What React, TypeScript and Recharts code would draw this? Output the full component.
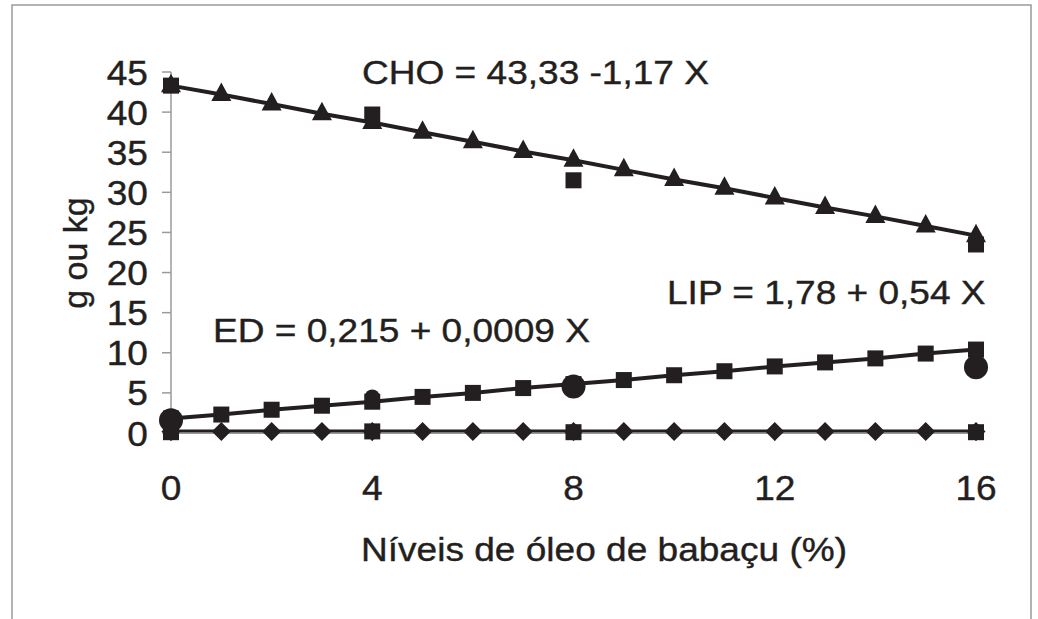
import { LineChart, Line, XAxis, YAxis } from "recharts";

// níveis de óleo (eixo X)
const niveis = [0, 1, 2, 3, 4, 5, 6, 7, 8, 9, 10, 11, 12, 13, 14, 15, 16];
// valores estimados (curvas ajustadas)
const choAjustado = [43.3, 42.2, 41.0, 39.8, 38.7, 37.5, 36.3, 35.1, 34.0, 32.8, 31.6, 30.5, 29.3, 28.1, 27.0, 25.8, 24.6];
const lipAjustado = [1.8, 2.3, 2.9, 3.4, 3.9, 4.5, 5.0, 5.6, 6.1, 6.6, 7.2, 7.7, 8.3, 8.8, 9.3, 9.9, 10.4];
const edAjustado = [0.2, 0.2, 0.2, 0.2, 0.2, 0.2, 0.2, 0.2, 0.2, 0.2, 0.2, 0.2, 0.2, 0.2, 0.2, 0.2, 0.2];
// valores observados
const niveisObs = [0, 4, 8, 16];
const choObs = [43.3, 39.7, 31.5, 23.5];
const lipObs = [1.6, 4.5, 5.8, 8.2];
const edObs = [0.1, 0.2, 0.1, 0.1];

const xTicks = [0, 4, 8, 12, 16];
const yTicks = [0, 5, 10, 15, 20, 25, 30, 35, 40, 45];

const INK = "#231f20";
const GRAY = "#9a9a9a";
const FONT = "'Liberation Sans', Arial, sans-serif";
const FS = 34;
const SX = 1.09; // a imagem original é um pouco esticada na horizontal

const data = niveis.map((x, i) => {
  const j = niveisObs.indexOf(x);
  return {
    x,
    cho: choAjustado[i],
    lip: lipAjustado[i],
    ed: edAjustado[i],
    choObs: j >= 0 ? choObs[j] : null,
    lipObs: j >= 0 ? lipObs[j] : null,
    edObs: j >= 0 ? edObs[j] : null,
  };
});

const Triangulo = (p: any) => {
  if (p.cy == null || p.value == null) return <g key={p.index} />;
  const { cx, cy } = p;
  return <polygon key={p.index} points={`${cx},${cy - 12} ${cx - 10},${cy + 6.5} ${cx + 10},${cy + 6.5}`} fill={INK} />;
};
const Quadrado = (p: any) => {
  if (p.cy == null || p.value == null) return <g key={p.index} />;
  return <rect key={p.index} x={p.cx - 8} y={p.cy - 8} width={16} height={16} fill={INK} />;
};
const Losango = (p: any) => {
  if (p.cy == null || p.value == null) return <g key={p.index} />;
  const { cx, cy } = p;
  return <polygon key={p.index} points={`${cx},${cy - 9.5} ${cx + 9.5},${cy} ${cx},${cy + 9.5} ${cx - 9.5},${cy}`} fill={INK} />;
};
const Circulo = (p: any) => {
  if (p.cy == null || p.value == null) return <g key={p.index} />;
  const r = p.payload.x === 4 ? 7.5 : 12;
  return <circle key={p.index} cx={p.cx} cy={p.cy} r={r} fill={INK} />;
};

const Texto = ({ x, y, anchor = "start", size = FS, sx = SX, children }: any) => (
  <text
    transform={`translate(${x},${y}) scale(${sx},1)`}
    textAnchor={anchor}
    fontFamily={FONT}
    fontSize={size}
    fill={INK}
    stroke={INK}
    strokeWidth={0.4}
  >
    {children}
  </text>
);

const TickX = ({ x, y, payload }: any) => (
  <Texto x={x} y={y + 54} anchor="middle" size={35} sx={1.06}>{payload.value}</Texto>
);
const TickY = ({ x, y, payload }: any) => (
  <Texto x={x} y={y + 12.5} anchor="end" size={35} sx={1.06}>{payload.value}</Texto>
);

export default function App() {
  return (
    <div style={{ position: "absolute", left: 0, top: 0, width: 1038, height: 619, background: "#fff", overflow: "hidden" }}>
      <LineChart width={1038} height={619} data={data} margin={{ top: 72, right: 62, bottom: 0, left: 0 }}>
        <XAxis
          dataKey="x"
          type="number"
          domain={[0, 16]}
          ticks={xTicks}
          height={186}
          tickSize={8}
          tickMargin={5}
          axisLine={{ stroke: GRAY, strokeWidth: 1.5 }}
          tickLine={{ stroke: GRAY, strokeWidth: 1.5 }}
          tick={<TickX />}
        />
        <YAxis
          type="number"
          domain={[0, 45]}
          ticks={yTicks}
          width={171}
          tickSize={9}
          tickMargin={14}
          axisLine={{ stroke: GRAY, strokeWidth: 1.5 }}
          tickLine={{ stroke: GRAY, strokeWidth: 1.5 }}
          tick={<TickY />}
        />
        <Line dataKey="lipObs" stroke="none" dot={Circulo} activeDot={false} isAnimationActive={false} />
        <Line dataKey="choObs" stroke="none" dot={Quadrado} activeDot={false} isAnimationActive={false} />
        <Line dataKey="edObs" stroke="none" dot={Quadrado} activeDot={false} isAnimationActive={false} />
        <Line dataKey="ed" type="linear" stroke={INK} strokeWidth={4} dot={Losango} activeDot={false} isAnimationActive={false} />
        <Line dataKey="lip" type="linear" stroke={INK} strokeWidth={4} dot={Quadrado} activeDot={false} isAnimationActive={false} />
        <Line dataKey="cho" type="linear" stroke={INK} strokeWidth={4} dot={Triangulo} activeDot={false} isAnimationActive={false} />
      </LineChart>
      <svg width={1038} height={619} style={{ position: "absolute", left: 0, top: 0, pointerEvents: "none" }}>
        <path d="M12,640 L12,5 L1031,5 L1031,640" fill="none" stroke={GRAY} strokeWidth={1.5} />
        <Texto x={362} y={84}>CHO = 43,33 -1,17 X</Texto>
        <Texto x={667} y={304}>LIP = 1,78 + 0,54 X</Texto>
        <Texto x={213} y={342}>ED = 0,215 + 0,0009 X</Texto>
        <Texto x={604} y={561} anchor="middle">Níveis de óleo de babaçu (%)</Texto>
        <text
          transform="translate(87,253) rotate(-90)"
          textAnchor="middle"
          fontFamily={FONT}
          fontSize={FS}
          fill={INK}
          stroke={INK}
          strokeWidth={0.4}
        >
          g ou kg
        </text>
      </svg>
    </div>
  );
}
